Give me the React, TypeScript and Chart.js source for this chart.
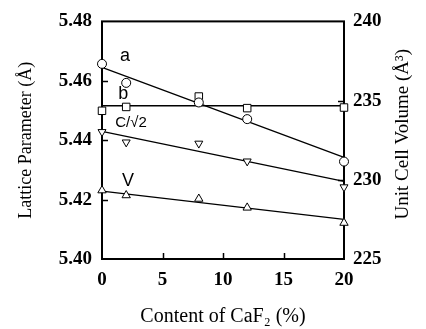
import React, { useEffect, useRef } from "react";
import { Chart, registerables } from "chart.js";

Chart.register(...registerables);

// CaF2 content (%)
const contents = [0, 2, 8, 12, 20];
// Lattice parameters (Å) – left axis
const latticeA = [5.4657, 5.4593, 5.4527, 5.4471, 5.4328];
const latticeB = [5.4499, 5.4512, 5.4547, 5.4508, 5.451];
const latticeC = [5.4428, 5.4393, 5.4389, 5.4329, 5.4242];
// Unit cell volume (Å^3) – right axis
const volumeV = [229.33, 229.02, 228.8, 228.24, 227.28];

// Fitted lines (end points at 0 % and 20 %)
const fitX = [0, 20];
const fitA = [5.4645, 5.4342];
const fitB = [5.4516, 5.4516];
const fitC = [5.443, 5.4261];
const fitV = [229.28, 227.5];

// Axis ranges
const xRange = [0, 20, 5];
const leftRange = [5.4, 5.48, 0.02];
const rightRange = [225, 240, 5];

// Axis titles
const xTitle = "Content of CaF\u2082 (%)";
const leftTitle = "Lattice Parameter (\u00C5)";
const rightTitle = "Unit Cell Volume (\u00C5\u00B3)";

// Series labels and their anchor values (left-axis units)
const seriesLabels = ["a", "b", "C/\u221A2", "V"];
const labelX = [1.9, 1.75, 2.4, 2.15];
const labelY = [5.4683, 5.4556, 5.4459, 5.4264];

const pts = (xs: number[], ys: number[]) => xs.map((x, i) => ({ x, y: ys[i] }));

const framePlugin = {
  id: "frameTicks",
  beforeDatasetsDraw(chart: any) {
    const { ctx, chartArea, scales } = chart;
    const { left, right, top, bottom } = chartArea;
    ctx.save();
    ctx.strokeStyle = "#000";
    ctx.lineWidth = 2;
    ctx.strokeRect(left, top, right - left, bottom - top);
    ctx.lineWidth = 1.5;
    const inner = (arr: any[]) => arr.slice(1, arr.length - 1);
    ctx.beginPath();
    for (const t of inner(scales.y.ticks)) {
      const py = Math.round(scales.y.getPixelForValue(t.value)) + 0.5;
      ctx.moveTo(left, py);
      ctx.lineTo(left + 6, py);
    }
    for (const t of inner(scales.y2.ticks)) {
      const py = Math.round(scales.y2.getPixelForValue(t.value)) + 0.5;
      ctx.moveTo(right, py);
      ctx.lineTo(right - 6, py);
    }
    for (const t of inner(scales.x.ticks)) {
      const px = Math.round(scales.x.getPixelForValue(t.value)) + 0.5;
      ctx.moveTo(px, bottom);
      ctx.lineTo(px, bottom - 6);
    }
    ctx.stroke();
    ctx.restore();
  },
  afterDatasetsDraw(chart: any) {
    const { ctx, scales, chartArea, width } = chart;
    ctx.save();
    ctx.fillStyle = "#000";
    ctx.textAlign = "center";
    ctx.textBaseline = "middle";
    seriesLabels.forEach((txt, i) => {
      ctx.font = i === 2 ? "15px 'Liberation Sans'" : "18px 'Liberation Sans'";
      ctx.fillText(txt, scales.x.getPixelForValue(labelX[i]), scales.y.getPixelForValue(labelY[i]));
    });
    // right axis title, reading bottom-to-top
    ctx.font = "19px 'Liberation Serif'";
    ctx.translate(width - 23, (chartArea.top + chartArea.bottom) / 2 - 6);
    ctx.rotate(-Math.PI / 2);
    ctx.fillText(rightTitle, 0, 0);
    ctx.restore();
  },
};

export default function App() {
  const ref = useRef<HTMLCanvasElement>(null);
  useEffect(() => {
    if (!ref.current) return;
    const marker = (style: string, radius: number, rotation = 0) => ({
      showLine: false,
      pointStyle: style,
      pointRadius: radius,
      pointRotation: rotation,
      pointBorderColor: "#000",
      pointBackgroundColor: "#fff",
      pointBorderWidth: 1,
      clip: false as any,
    });
    const line = {
      showLine: true,
      pointRadius: 0,
      borderColor: "#000",
      borderWidth: 1.3,
      clip: false as any,
    };
    const tickFont = { family: "'Liberation Serif'", size: 19, weight: "bold" as const };
    const chart = new Chart(ref.current, {
      type: "scatter",
      data: {
        datasets: [
          { label: "a", data: pts(contents, latticeA), yAxisID: "y", ...marker("circle", 4.5) },
          { label: "b", data: pts(contents, latticeB), yAxisID: "y", ...marker("rect", 5.3) },
          { label: "c", data: pts(contents, latticeC), yAxisID: "y", ...marker("triangle", 4.6, 180) },
          { label: "V", data: pts(contents, volumeV), yAxisID: "y2", ...marker("triangle", 4.8) },
          { label: "fa", data: pts(fitX, fitA), yAxisID: "y", ...line },
          { label: "fb", data: pts(fitX, fitB), yAxisID: "y", ...line },
          { label: "fc", data: pts(fitX, fitC), yAxisID: "y", ...line },
          { label: "fv", data: pts(fitX, fitV), yAxisID: "y2", ...line },
        ] as any,
      },
      options: {
        responsive: false,
        animation: false,
        events: [],
        layout: { padding: { top: 20, left: 0, right: 0, bottom: 0 } },
        plugins: { legend: { display: false }, tooltip: { enabled: false } },
        scales: {
          x: {
            type: "linear",
            min: xRange[0],
            max: xRange[1],
            grid: { display: false, drawTicks: false },
            border: { display: false },
            ticks: { stepSize: xRange[2], color: "#000", font: tickFont, padding: 10 },
            title: {
              display: true,
              text: xTitle,
              color: "#000",
              font: { family: "'Liberation Serif'", size: 20 },
              padding: { top: 0, bottom: 0 },
            },
            afterFit: (s: any) => {
              s.height = 70;
            },
          },
          y: {
            type: "linear",
            position: "left",
            min: leftRange[0],
            max: leftRange[1],
            grid: { display: false, drawTicks: false },
            border: { display: false },
            ticks: {
              stepSize: leftRange[2],
              color: "#000",
              font: tickFont,
              padding: 10,
              callback: (v: any) => Number(v).toFixed(2),
            },
            title: {
              display: true,
              text: leftTitle,
              color: "#000",
              font: { family: "'Liberation Serif'", size: 18 },
              padding: { top: 15, bottom: 0 },
            },
            afterFit: (s: any) => {
              s.width = 102;
            },
          },
          y2: {
            type: "linear",
            position: "right",
            min: rightRange[0],
            max: rightRange[1],
            grid: { display: false, drawTicks: false },
            border: { display: false },
            ticks: { stepSize: rightRange[2], color: "#000", font: tickFont, padding: 9 },
            title: { display: false },
            afterFit: (s: any) => {
              s.width = 82;
            },
          },
        },
      },
      plugins: [framePlugin],
    });
    return () => chart.destroy();
  }, []);
  return (
    <div style={{ position: "absolute", left: 0, top: 0, width: 426, height: 329, background: "#fff" }}>
      <canvas ref={ref} width={426} height={329} />
    </div>
  );
}
